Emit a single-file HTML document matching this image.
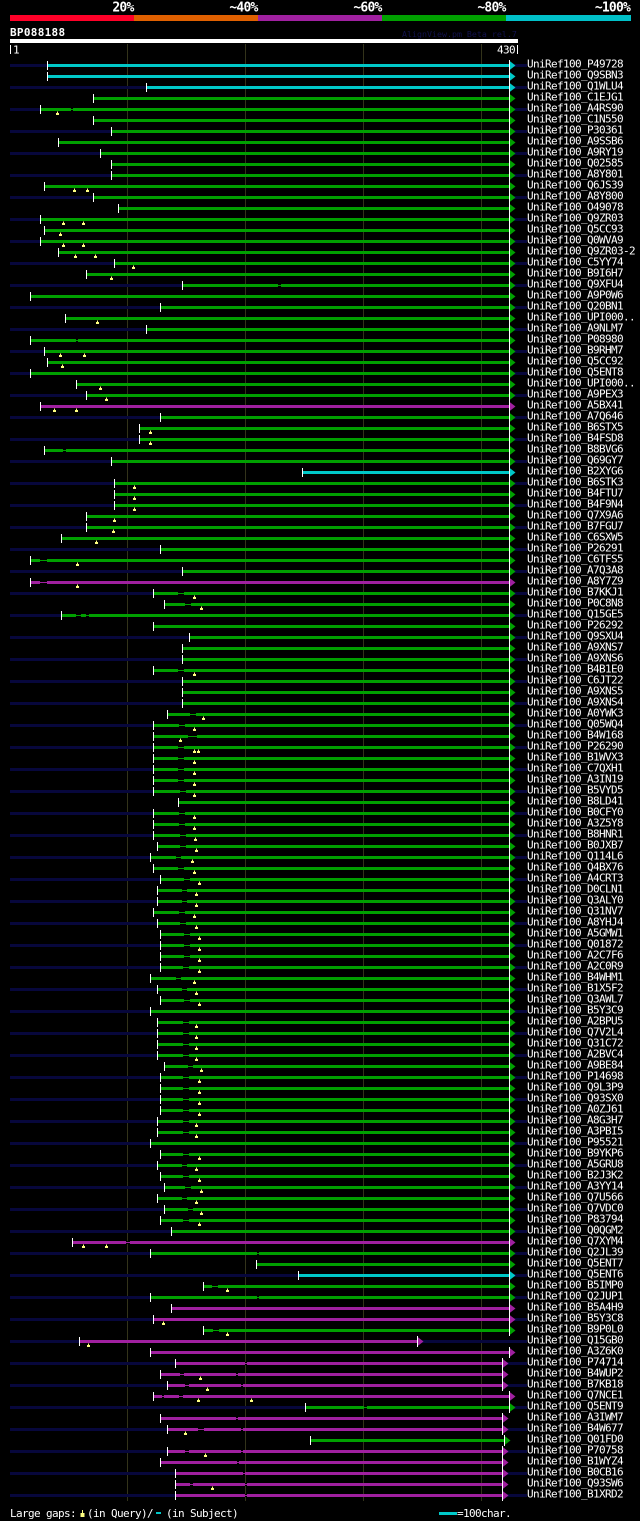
<!DOCTYPE html>
<html><head><meta charset="utf-8"><style>
html,body{margin:0;padding:0;background:#000;}
svg{display:block;}
.C{fill:#00c8c8}.G{fill:#00a000}.P{fill:#a020a0}.N{fill:#07073c}.K{fill:#000}.W{fill:#fff}
text{font-family:"DejaVu Sans Mono","Liberation Mono",monospace;font-size:11px;letter-spacing:-0.62px;fill:#fff}
.hd{font-weight:bold;font-size:13px;letter-spacing:-0.8px}
.bp{font-weight:bold;font-size:11px;letter-spacing:0.3px}
.av{font-size:8.3px;letter-spacing:0;fill:#12124e}
</style></head><body>
<svg width="640" height="1521" viewBox="0 0 640 1521" xmlns="http://www.w3.org/2000/svg">
<defs>
<rect id="k" x="0" y="61" width="1" height="9" fill="#fff"/>
<rect id="n" x="10" y="64" width="517" height="3" fill="#07073c"/>
<path id="t" d="M0 67.5h1v1.5h1v2h-3v-2h1z" fill="#ffff80"/>
<g id="aC"><path d="M509 60.5L515.5 65.5L509 70.5Z" fill="#00c8c8"/><rect x="509" y="60" width="1" height="11" fill="#fff"/></g>
<g id="aG"><path d="M509 60.5L515.5 65.5L509 70.5Z" fill="#00a000"/><rect x="509" y="60" width="1" height="11" fill="#fff"/></g>
<g id="aP"><path d="M509 60.5L515.5 65.5L509 70.5Z" fill="#a020a0"/><rect x="509" y="60" width="1" height="11" fill="#fff"/></g>
</defs>
<rect x="0" y="0" width="640" height="1521" fill="#000"/>
<!-- header -->
<text class="hd" x="133.5" y="11.5" text-anchor="end">20%</text>
<text class="hd" x="257.5" y="11.5" text-anchor="end">~40%</text>
<text class="hd" x="381.5" y="11.5" text-anchor="end">~60%</text>
<text class="hd" x="505.5" y="11.5" text-anchor="end">~80%</text>
<text class="hd" x="630" y="11.5" text-anchor="end">~100%</text>
<rect x="10" y="15" width="124" height="6" fill="#ff0028"/>
<rect x="134" y="15" width="124" height="6" fill="#e06000"/>
<rect x="258" y="15" width="124" height="6" fill="#a020a0"/>
<rect x="382" y="15" width="124" height="6" fill="#00a000"/>
<rect x="506" y="15" width="125" height="6" fill="#00c0c8"/>
<text class="bp" x="10" y="36">BP088188</text>
<text class="av" x="402" y="37">AlignView.pm Beta rel.7</text>
<rect x="10" y="39" width="508" height="4" fill="#fff"/>
<rect x="10" y="45" width="1" height="9" fill="#fff"/>
<text x="13" y="53.5">1</text>
<text x="515" y="53.5" text-anchor="end">430</text>
<rect x="517" y="45" width="1" height="9" fill="#fff"/>
<!-- grid -->
<rect x="127" y="44" width="1" height="1457" fill="#33331a"/>
<rect x="245" y="44" width="1" height="1457" fill="#33331a"/>
<rect x="363" y="44" width="1" height="1457" fill="#33331a"/>
<rect x="481" y="44" width="1" height="1457" fill="#33331a"/>
<!-- rows -->
<g transform="translate(0,0)"><use href="#n"/><rect class="C" x="47" y="64" width="462" height="3"/><use href="#k" x="47"/><use href="#aC"/><text x="527" y="67.5">UniRef100_P49728</text></g>
<g transform="translate(0,11)"><rect class="C" x="47" y="64" width="462" height="3"/><use href="#k" x="47"/><use href="#aC"/><text x="527" y="67.5">UniRef100_Q9SBN3</text></g>
<g transform="translate(0,22)"><use href="#n"/><rect class="C" x="146" y="64" width="363" height="3"/><use href="#k" x="146"/><use href="#aC"/><text x="527" y="67.5">UniRef100_Q1WLU4</text></g>
<g transform="translate(0,33)"><rect class="G" x="93" y="64" width="416" height="3"/><use href="#k" x="93"/><use href="#aG"/><text x="527" y="67.5">UniRef100_C1EJG1</text></g>
<g transform="translate(0,44)"><use href="#n"/><rect class="G" x="40" y="64" width="469" height="3"/><rect class="K" x="71" y="64" width="2" height="3"/><rect class="G" x="71" y="65" width="2" height="1"/><use href="#k" x="40"/><use href="#t" x="57"/><use href="#aG"/><text x="527" y="67.5">UniRef100_A4RS90</text></g>
<g transform="translate(0,55)"><rect class="G" x="93" y="64" width="416" height="3"/><use href="#k" x="93"/><use href="#aG"/><text x="527" y="67.5">UniRef100_C1N550</text></g>
<g transform="translate(0,66)"><use href="#n"/><rect class="G" x="111" y="64" width="398" height="3"/><use href="#k" x="111"/><use href="#aG"/><text x="527" y="67.5">UniRef100_P30361</text></g>
<g transform="translate(0,77)"><rect class="G" x="58" y="64" width="451" height="3"/><use href="#k" x="58"/><use href="#aG"/><text x="527" y="67.5">UniRef100_A9SSB6</text></g>
<g transform="translate(0,88)"><use href="#n"/><rect class="G" x="100" y="64" width="409" height="3"/><use href="#k" x="100"/><use href="#aG"/><text x="527" y="67.5">UniRef100_A9RY19</text></g>
<g transform="translate(0,99)"><rect class="G" x="111" y="64" width="398" height="3"/><use href="#k" x="111"/><use href="#aG"/><text x="527" y="67.5">UniRef100_Q02585</text></g>
<g transform="translate(0,110)"><use href="#n"/><rect class="G" x="111" y="64" width="398" height="3"/><use href="#k" x="111"/><use href="#aG"/><text x="527" y="67.5">UniRef100_A8Y801</text></g>
<g transform="translate(0,121)"><rect class="G" x="44" y="64" width="465" height="3"/><use href="#k" x="44"/><use href="#t" x="74"/><use href="#t" x="87"/><use href="#aG"/><text x="527" y="67.5">UniRef100_Q6JS39</text></g>
<g transform="translate(0,132)"><use href="#n"/><rect class="G" x="93" y="64" width="416" height="3"/><use href="#k" x="93"/><use href="#aG"/><text x="527" y="67.5">UniRef100_A8Y800</text></g>
<g transform="translate(0,143)"><rect class="G" x="118" y="64" width="391" height="3"/><use href="#k" x="118"/><use href="#aG"/><text x="527" y="67.5">UniRef100_O49078</text></g>
<g transform="translate(0,154)"><use href="#n"/><rect class="G" x="40" y="64" width="469" height="3"/><use href="#k" x="40"/><use href="#t" x="63"/><use href="#t" x="83"/><use href="#aG"/><text x="527" y="67.5">UniRef100_Q9ZR03</text></g>
<g transform="translate(0,165)"><rect class="G" x="44" y="64" width="465" height="3"/><use href="#k" x="44"/><use href="#t" x="60"/><use href="#aG"/><text x="527" y="67.5">UniRef100_Q5CC93</text></g>
<g transform="translate(0,176)"><use href="#n"/><rect class="G" x="40" y="64" width="469" height="3"/><use href="#k" x="40"/><use href="#t" x="63"/><use href="#t" x="83"/><use href="#aG"/><text x="527" y="67.5">UniRef100_Q0WVA9</text></g>
<g transform="translate(0,187)"><rect class="G" x="58" y="64" width="451" height="3"/><use href="#k" x="58"/><use href="#t" x="75"/><use href="#t" x="95"/><use href="#aG"/><text x="527" y="67.5">UniRef100_Q9ZR03-2</text></g>
<g transform="translate(0,198)"><use href="#n"/><rect class="G" x="114" y="64" width="395" height="3"/><use href="#k" x="114"/><use href="#t" x="133"/><use href="#aG"/><text x="527" y="67.5">UniRef100_C5YY74</text></g>
<g transform="translate(0,209)"><rect class="G" x="86" y="64" width="423" height="3"/><use href="#k" x="86"/><use href="#t" x="111"/><use href="#aG"/><text x="527" y="67.5">UniRef100_B9I6H7</text></g>
<g transform="translate(0,220)"><use href="#n"/><rect class="G" x="182" y="64" width="327" height="3"/><rect class="K" x="278" y="64" width="3" height="3"/><rect class="G" x="278" y="65" width="3" height="1"/><use href="#k" x="182"/><use href="#aG"/><text x="527" y="67.5">UniRef100_Q9XFU4</text></g>
<g transform="translate(0,231)"><rect class="G" x="30" y="64" width="479" height="3"/><use href="#k" x="30"/><use href="#aG"/><text x="527" y="67.5">UniRef100_A9P0W6</text></g>
<g transform="translate(0,242)"><use href="#n"/><rect class="G" x="160" y="64" width="349" height="3"/><use href="#k" x="160"/><use href="#aG"/><text x="527" y="67.5">UniRef100_Q20BN1</text></g>
<g transform="translate(0,253)"><rect class="G" x="65" y="64" width="444" height="3"/><use href="#k" x="65"/><use href="#t" x="97"/><use href="#aG"/><text x="527" y="67.5">UniRef100_UPI000..</text></g>
<g transform="translate(0,264)"><use href="#n"/><rect class="G" x="146" y="64" width="363" height="3"/><use href="#k" x="146"/><use href="#aG"/><text x="527" y="67.5">UniRef100_A9NLM7</text></g>
<g transform="translate(0,275)"><rect class="G" x="30" y="64" width="479" height="3"/><rect class="K" x="76" y="64" width="2" height="3"/><rect class="G" x="76" y="65" width="2" height="1"/><use href="#k" x="30"/><use href="#aG"/><text x="527" y="67.5">UniRef100_P08980</text></g>
<g transform="translate(0,286)"><use href="#n"/><rect class="G" x="44" y="64" width="465" height="3"/><use href="#k" x="44"/><use href="#t" x="60"/><use href="#t" x="84"/><use href="#aG"/><text x="527" y="67.5">UniRef100_B9RHM7</text></g>
<g transform="translate(0,297)"><rect class="G" x="47" y="64" width="462" height="3"/><use href="#k" x="47"/><use href="#t" x="62"/><use href="#aG"/><text x="527" y="67.5">UniRef100_Q5CC92</text></g>
<g transform="translate(0,308)"><use href="#n"/><rect class="G" x="30" y="64" width="479" height="3"/><use href="#k" x="30"/><use href="#aG"/><text x="527" y="67.5">UniRef100_Q5ENT8</text></g>
<g transform="translate(0,319)"><rect class="G" x="76" y="64" width="433" height="3"/><use href="#k" x="76"/><use href="#t" x="100"/><use href="#aG"/><text x="527" y="67.5">UniRef100_UPI000..</text></g>
<g transform="translate(0,330)"><use href="#n"/><rect class="G" x="86" y="64" width="423" height="3"/><use href="#k" x="86"/><use href="#t" x="106"/><use href="#aG"/><text x="527" y="67.5">UniRef100_A9PEX3</text></g>
<g transform="translate(0,341)"><rect class="P" x="40" y="64" width="469" height="3"/><use href="#k" x="40"/><use href="#t" x="54"/><use href="#t" x="76"/><use href="#aP"/><text x="527" y="67.5">UniRef100_A5BX41</text></g>
<g transform="translate(0,352)"><use href="#n"/><rect class="G" x="160" y="64" width="349" height="3"/><use href="#k" x="160"/><use href="#aG"/><text x="527" y="67.5">UniRef100_A7Q646</text></g>
<g transform="translate(0,363)"><rect class="G" x="139" y="64" width="370" height="3"/><use href="#k" x="139"/><use href="#t" x="150"/><use href="#aG"/><text x="527" y="67.5">UniRef100_B6STX5</text></g>
<g transform="translate(0,374)"><use href="#n"/><rect class="G" x="139" y="64" width="370" height="3"/><use href="#k" x="139"/><use href="#t" x="150"/><use href="#aG"/><text x="527" y="67.5">UniRef100_B4FSD8</text></g>
<g transform="translate(0,385)"><rect class="G" x="44" y="64" width="465" height="3"/><rect class="K" x="63" y="64" width="3" height="3"/><rect class="G" x="63" y="65" width="3" height="1"/><use href="#k" x="44"/><use href="#aG"/><text x="527" y="67.5">UniRef100_B8BVG6</text></g>
<g transform="translate(0,396)"><use href="#n"/><rect class="G" x="111" y="64" width="398" height="3"/><use href="#k" x="111"/><use href="#aG"/><text x="527" y="67.5">UniRef100_Q69GY7</text></g>
<g transform="translate(0,407)"><rect class="C" x="302" y="64" width="207" height="3"/><use href="#k" x="302"/><use href="#aC"/><text x="527" y="67.5">UniRef100_B2XYG6</text></g>
<g transform="translate(0,418)"><use href="#n"/><rect class="G" x="114" y="64" width="395" height="3"/><use href="#k" x="114"/><use href="#t" x="134"/><use href="#aG"/><text x="527" y="67.5">UniRef100_B6STK3</text></g>
<g transform="translate(0,429)"><rect class="G" x="114" y="64" width="395" height="3"/><use href="#k" x="114"/><use href="#t" x="134"/><use href="#aG"/><text x="527" y="67.5">UniRef100_B4FTU7</text></g>
<g transform="translate(0,440)"><use href="#n"/><rect class="G" x="114" y="64" width="395" height="3"/><use href="#k" x="114"/><use href="#t" x="134"/><use href="#aG"/><text x="527" y="67.5">UniRef100_B4F9N4</text></g>
<g transform="translate(0,451)"><rect class="G" x="86" y="64" width="423" height="3"/><use href="#k" x="86"/><use href="#t" x="114"/><use href="#aG"/><text x="527" y="67.5">UniRef100_Q7X9A6</text></g>
<g transform="translate(0,462)"><use href="#n"/><rect class="G" x="86" y="64" width="423" height="3"/><use href="#k" x="86"/><use href="#t" x="113"/><use href="#aG"/><text x="527" y="67.5">UniRef100_B7FGU7</text></g>
<g transform="translate(0,473)"><rect class="G" x="61" y="64" width="448" height="3"/><use href="#k" x="61"/><use href="#t" x="96"/><use href="#aG"/><text x="527" y="67.5">UniRef100_C6SXW5</text></g>
<g transform="translate(0,484)"><use href="#n"/><rect class="G" x="160" y="64" width="349" height="3"/><use href="#k" x="160"/><use href="#aG"/><text x="527" y="67.5">UniRef100_P26291</text></g>
<g transform="translate(0,495)"><rect class="G" x="30" y="64" width="479" height="3"/><rect class="K" x="40" y="64" width="7" height="3"/><rect class="G" x="40" y="65" width="7" height="1"/><use href="#k" x="30"/><use href="#t" x="77"/><use href="#aG"/><text x="527" y="67.5">UniRef100_C6TFS5</text></g>
<g transform="translate(0,506)"><use href="#n"/><rect class="G" x="182" y="64" width="327" height="3"/><use href="#k" x="182"/><use href="#aG"/><text x="527" y="67.5">UniRef100_A7Q3A8</text></g>
<g transform="translate(0,517)"><rect class="P" x="30" y="64" width="479" height="3"/><rect class="K" x="40" y="64" width="7" height="3"/><rect class="P" x="40" y="65" width="7" height="1"/><use href="#k" x="30"/><use href="#t" x="77"/><use href="#aP"/><text x="527" y="67.5">UniRef100_A8Y7Z9</text></g>
<g transform="translate(0,528)"><use href="#n"/><rect class="G" x="153" y="64" width="356" height="3"/><rect class="K" x="178" y="64" width="6" height="3"/><rect class="G" x="178" y="65" width="6" height="1"/><use href="#k" x="153"/><use href="#t" x="194"/><use href="#aG"/><text x="527" y="67.5">UniRef100_B7KKJ1</text></g>
<g transform="translate(0,539)"><rect class="G" x="164" y="64" width="345" height="3"/><rect class="K" x="185" y="64" width="6" height="3"/><rect class="G" x="185" y="65" width="6" height="1"/><use href="#k" x="164"/><use href="#t" x="201"/><use href="#aG"/><text x="527" y="67.5">UniRef100_P0C8N8</text></g>
<g transform="translate(0,550)"><use href="#n"/><rect class="G" x="61" y="64" width="448" height="3"/><rect class="K" x="76" y="64" width="5" height="3"/><rect class="G" x="76" y="65" width="5" height="1"/><rect class="K" x="86" y="64" width="3" height="3"/><rect class="G" x="86" y="65" width="3" height="1"/><use href="#k" x="61"/><use href="#aG"/><text x="527" y="67.5">UniRef100_Q15GE5</text></g>
<g transform="translate(0,561)"><rect class="G" x="153" y="64" width="356" height="3"/><use href="#k" x="153"/><use href="#aG"/><text x="527" y="67.5">UniRef100_P26292</text></g>
<g transform="translate(0,572)"><use href="#n"/><rect class="G" x="189" y="64" width="320" height="3"/><use href="#k" x="189"/><use href="#aG"/><text x="527" y="67.5">UniRef100_Q9SXU4</text></g>
<g transform="translate(0,583)"><rect class="G" x="182" y="64" width="327" height="3"/><use href="#k" x="182"/><use href="#aG"/><text x="527" y="67.5">UniRef100_A9XNS7</text></g>
<g transform="translate(0,594)"><use href="#n"/><rect class="G" x="182" y="64" width="327" height="3"/><use href="#k" x="182"/><use href="#aG"/><text x="527" y="67.5">UniRef100_A9XNS6</text></g>
<g transform="translate(0,605)"><rect class="G" x="153" y="64" width="356" height="3"/><rect class="K" x="178" y="64" width="6" height="3"/><rect class="G" x="178" y="65" width="6" height="1"/><use href="#k" x="153"/><use href="#t" x="194"/><use href="#aG"/><text x="527" y="67.5">UniRef100_B4B1E0</text></g>
<g transform="translate(0,616)"><use href="#n"/><rect class="G" x="182" y="64" width="327" height="3"/><use href="#k" x="182"/><use href="#aG"/><text x="527" y="67.5">UniRef100_C6JT22</text></g>
<g transform="translate(0,627)"><rect class="G" x="182" y="64" width="327" height="3"/><use href="#k" x="182"/><use href="#aG"/><text x="527" y="67.5">UniRef100_A9XNS5</text></g>
<g transform="translate(0,638)"><use href="#n"/><rect class="G" x="182" y="64" width="327" height="3"/><use href="#k" x="182"/><use href="#aG"/><text x="527" y="67.5">UniRef100_A9XNS4</text></g>
<g transform="translate(0,649)"><rect class="G" x="167" y="64" width="342" height="3"/><rect class="K" x="190" y="64" width="6" height="3"/><rect class="G" x="190" y="65" width="6" height="1"/><use href="#k" x="167"/><use href="#t" x="203"/><use href="#aG"/><text x="527" y="67.5">UniRef100_A0YWK3</text></g>
<g transform="translate(0,660)"><use href="#n"/><rect class="G" x="153" y="64" width="356" height="3"/><rect class="K" x="179" y="64" width="6" height="3"/><rect class="G" x="179" y="65" width="6" height="1"/><use href="#k" x="153"/><use href="#t" x="194"/><use href="#aG"/><text x="527" y="67.5">UniRef100_Q05WQ4</text></g>
<g transform="translate(0,671)"><rect class="G" x="153" y="64" width="356" height="3"/><rect class="K" x="188" y="64" width="9" height="3"/><rect class="G" x="188" y="65" width="9" height="1"/><use href="#k" x="153"/><use href="#t" x="180"/><use href="#aG"/><text x="527" y="67.5">UniRef100_B4W168</text></g>
<g transform="translate(0,682)"><use href="#n"/><rect class="G" x="153" y="64" width="356" height="3"/><rect class="K" x="178" y="64" width="6" height="3"/><rect class="G" x="178" y="65" width="6" height="1"/><use href="#k" x="153"/><use href="#t" x="194"/><use href="#t" x="198"/><use href="#aG"/><text x="527" y="67.5">UniRef100_P26290</text></g>
<g transform="translate(0,693)"><rect class="G" x="153" y="64" width="356" height="3"/><rect class="K" x="178" y="64" width="6" height="3"/><rect class="G" x="178" y="65" width="6" height="1"/><use href="#k" x="153"/><use href="#t" x="194"/><use href="#aG"/><text x="527" y="67.5">UniRef100_B1WVX3</text></g>
<g transform="translate(0,704)"><use href="#n"/><rect class="G" x="153" y="64" width="356" height="3"/><rect class="K" x="178" y="64" width="6" height="3"/><rect class="G" x="178" y="65" width="6" height="1"/><use href="#k" x="153"/><use href="#t" x="194"/><use href="#aG"/><text x="527" y="67.5">UniRef100_C7QXH1</text></g>
<g transform="translate(0,715)"><rect class="G" x="153" y="64" width="356" height="3"/><rect class="K" x="178" y="64" width="6" height="3"/><rect class="G" x="178" y="65" width="6" height="1"/><use href="#k" x="153"/><use href="#t" x="194"/><use href="#aG"/><text x="527" y="67.5">UniRef100_A3IN19</text></g>
<g transform="translate(0,726)"><use href="#n"/><rect class="G" x="153" y="64" width="356" height="3"/><rect class="K" x="180" y="64" width="6" height="3"/><rect class="G" x="180" y="65" width="6" height="1"/><use href="#k" x="153"/><use href="#t" x="194"/><use href="#aG"/><text x="527" y="67.5">UniRef100_B5VYD5</text></g>
<g transform="translate(0,737)"><rect class="G" x="178" y="64" width="331" height="3"/><use href="#k" x="178"/><use href="#aG"/><text x="527" y="67.5">UniRef100_B8LD41</text></g>
<g transform="translate(0,748)"><use href="#n"/><rect class="G" x="153" y="64" width="356" height="3"/><rect class="K" x="179" y="64" width="6" height="3"/><rect class="G" x="179" y="65" width="6" height="1"/><use href="#k" x="153"/><use href="#t" x="194"/><use href="#aG"/><text x="527" y="67.5">UniRef100_B0CFY0</text></g>
<g transform="translate(0,759)"><rect class="G" x="153" y="64" width="356" height="3"/><rect class="K" x="179" y="64" width="6" height="3"/><rect class="G" x="179" y="65" width="6" height="1"/><use href="#k" x="153"/><use href="#t" x="194"/><use href="#aG"/><text x="527" y="67.5">UniRef100_A3Z5Y8</text></g>
<g transform="translate(0,770)"><use href="#n"/><rect class="G" x="153" y="64" width="356" height="3"/><rect class="K" x="180" y="64" width="6" height="3"/><rect class="G" x="180" y="65" width="6" height="1"/><use href="#k" x="153"/><use href="#t" x="195"/><use href="#aG"/><text x="527" y="67.5">UniRef100_B8HNR1</text></g>
<g transform="translate(0,781)"><rect class="G" x="157" y="64" width="352" height="3"/><rect class="K" x="180" y="64" width="6" height="3"/><rect class="G" x="180" y="65" width="6" height="1"/><use href="#k" x="157"/><use href="#t" x="196"/><use href="#aG"/><text x="527" y="67.5">UniRef100_B0JXB7</text></g>
<g transform="translate(0,792)"><use href="#n"/><rect class="G" x="150" y="64" width="359" height="3"/><rect class="K" x="176" y="64" width="5" height="3"/><rect class="G" x="176" y="65" width="5" height="1"/><use href="#k" x="150"/><use href="#t" x="192"/><use href="#aG"/><text x="527" y="67.5">UniRef100_Q114L6</text></g>
<g transform="translate(0,803)"><rect class="G" x="153" y="64" width="356" height="3"/><rect class="K" x="178" y="64" width="6" height="3"/><rect class="G" x="178" y="65" width="6" height="1"/><use href="#k" x="153"/><use href="#t" x="194"/><use href="#aG"/><text x="527" y="67.5">UniRef100_Q4BX76</text></g>
<g transform="translate(0,814)"><use href="#n"/><rect class="G" x="160" y="64" width="349" height="3"/><rect class="K" x="184" y="64" width="6" height="3"/><rect class="G" x="184" y="65" width="6" height="1"/><use href="#k" x="160"/><use href="#t" x="199"/><use href="#aG"/><text x="527" y="67.5">UniRef100_A4CRT3</text></g>
<g transform="translate(0,825)"><rect class="G" x="157" y="64" width="352" height="3"/><rect class="K" x="182" y="64" width="5" height="3"/><rect class="G" x="182" y="65" width="5" height="1"/><use href="#k" x="157"/><use href="#t" x="196"/><use href="#aG"/><text x="527" y="67.5">UniRef100_D0CLN1</text></g>
<g transform="translate(0,836)"><use href="#n"/><rect class="G" x="157" y="64" width="352" height="3"/><rect class="K" x="182" y="64" width="5" height="3"/><rect class="G" x="182" y="65" width="5" height="1"/><use href="#k" x="157"/><use href="#t" x="196"/><use href="#aG"/><text x="527" y="67.5">UniRef100_Q3ALY0</text></g>
<g transform="translate(0,847)"><rect class="G" x="153" y="64" width="356" height="3"/><rect class="K" x="179" y="64" width="6" height="3"/><rect class="G" x="179" y="65" width="6" height="1"/><use href="#k" x="153"/><use href="#t" x="194"/><use href="#aG"/><text x="527" y="67.5">UniRef100_Q31NV7</text></g>
<g transform="translate(0,858)"><use href="#n"/><rect class="G" x="157" y="64" width="352" height="3"/><rect class="K" x="180" y="64" width="6" height="3"/><rect class="G" x="180" y="65" width="6" height="1"/><use href="#k" x="157"/><use href="#t" x="196"/><use href="#aG"/><text x="527" y="67.5">UniRef100_A8YHJ4</text></g>
<g transform="translate(0,869)"><rect class="G" x="160" y="64" width="349" height="3"/><rect class="K" x="184" y="64" width="6" height="3"/><rect class="G" x="184" y="65" width="6" height="1"/><use href="#k" x="160"/><use href="#t" x="199"/><use href="#aG"/><text x="527" y="67.5">UniRef100_A5GMW1</text></g>
<g transform="translate(0,880)"><use href="#n"/><rect class="G" x="160" y="64" width="349" height="3"/><rect class="K" x="184" y="64" width="6" height="3"/><rect class="G" x="184" y="65" width="6" height="1"/><use href="#k" x="160"/><use href="#t" x="199"/><use href="#aG"/><text x="527" y="67.5">UniRef100_Q01872</text></g>
<g transform="translate(0,891)"><rect class="G" x="160" y="64" width="349" height="3"/><rect class="K" x="184" y="64" width="6" height="3"/><rect class="G" x="184" y="65" width="6" height="1"/><use href="#k" x="160"/><use href="#t" x="199"/><use href="#aG"/><text x="527" y="67.5">UniRef100_A2C7F6</text></g>
<g transform="translate(0,902)"><use href="#n"/><rect class="G" x="160" y="64" width="349" height="3"/><rect class="K" x="183" y="64" width="6" height="3"/><rect class="G" x="183" y="65" width="6" height="1"/><use href="#k" x="160"/><use href="#t" x="199"/><use href="#aG"/><text x="527" y="67.5">UniRef100_A2C0R9</text></g>
<g transform="translate(0,913)"><rect class="G" x="150" y="64" width="359" height="3"/><rect class="K" x="176" y="64" width="5" height="3"/><rect class="G" x="176" y="65" width="5" height="1"/><use href="#k" x="150"/><use href="#t" x="194"/><use href="#aG"/><text x="527" y="67.5">UniRef100_B4WHM1</text></g>
<g transform="translate(0,924)"><use href="#n"/><rect class="G" x="157" y="64" width="352" height="3"/><rect class="K" x="182" y="64" width="5" height="3"/><rect class="G" x="182" y="65" width="5" height="1"/><use href="#k" x="157"/><use href="#t" x="196"/><use href="#aG"/><text x="527" y="67.5">UniRef100_B1X5F2</text></g>
<g transform="translate(0,935)"><rect class="G" x="160" y="64" width="349" height="3"/><rect class="K" x="184" y="64" width="6" height="3"/><rect class="G" x="184" y="65" width="6" height="1"/><use href="#k" x="160"/><use href="#t" x="199"/><use href="#aG"/><text x="527" y="67.5">UniRef100_Q3AWL7</text></g>
<g transform="translate(0,946)"><use href="#n"/><rect class="G" x="150" y="64" width="359" height="3"/><use href="#k" x="150"/><use href="#aG"/><text x="527" y="67.5">UniRef100_B5Y3C9</text></g>
<g transform="translate(0,957)"><rect class="G" x="157" y="64" width="352" height="3"/><rect class="K" x="183" y="64" width="6" height="3"/><rect class="G" x="183" y="65" width="6" height="1"/><use href="#k" x="157"/><use href="#t" x="196"/><use href="#aG"/><text x="527" y="67.5">UniRef100_A2BPU5</text></g>
<g transform="translate(0,968)"><use href="#n"/><rect class="G" x="157" y="64" width="352" height="3"/><rect class="K" x="183" y="64" width="6" height="3"/><rect class="G" x="183" y="65" width="6" height="1"/><use href="#k" x="157"/><use href="#t" x="196"/><use href="#aG"/><text x="527" y="67.5">UniRef100_Q7V2L4</text></g>
<g transform="translate(0,979)"><rect class="G" x="157" y="64" width="352" height="3"/><rect class="K" x="183" y="64" width="6" height="3"/><rect class="G" x="183" y="65" width="6" height="1"/><use href="#k" x="157"/><use href="#t" x="196"/><use href="#aG"/><text x="527" y="67.5">UniRef100_Q31C72</text></g>
<g transform="translate(0,990)"><use href="#n"/><rect class="G" x="157" y="64" width="352" height="3"/><rect class="K" x="183" y="64" width="6" height="3"/><rect class="G" x="183" y="65" width="6" height="1"/><use href="#k" x="157"/><use href="#t" x="196"/><use href="#aG"/><text x="527" y="67.5">UniRef100_A2BVC4</text></g>
<g transform="translate(0,1001)"><rect class="G" x="164" y="64" width="345" height="3"/><rect class="K" x="188" y="64" width="5" height="3"/><rect class="G" x="188" y="65" width="5" height="1"/><use href="#k" x="164"/><use href="#t" x="201"/><use href="#aG"/><text x="527" y="67.5">UniRef100_A9BE84</text></g>
<g transform="translate(0,1012)"><use href="#n"/><rect class="G" x="160" y="64" width="349" height="3"/><rect class="K" x="183" y="64" width="6" height="3"/><rect class="G" x="183" y="65" width="6" height="1"/><use href="#k" x="160"/><use href="#t" x="199"/><use href="#aG"/><text x="527" y="67.5">UniRef100_P14698</text></g>
<g transform="translate(0,1023)"><rect class="G" x="160" y="64" width="349" height="3"/><rect class="K" x="183" y="64" width="6" height="3"/><rect class="G" x="183" y="65" width="6" height="1"/><use href="#k" x="160"/><use href="#t" x="199"/><use href="#aG"/><text x="527" y="67.5">UniRef100_Q9L3P9</text></g>
<g transform="translate(0,1034)"><use href="#n"/><rect class="G" x="160" y="64" width="349" height="3"/><rect class="K" x="183" y="64" width="6" height="3"/><rect class="G" x="183" y="65" width="6" height="1"/><use href="#k" x="160"/><use href="#t" x="199"/><use href="#aG"/><text x="527" y="67.5">UniRef100_Q93SX0</text></g>
<g transform="translate(0,1045)"><rect class="G" x="160" y="64" width="349" height="3"/><rect class="K" x="183" y="64" width="6" height="3"/><rect class="G" x="183" y="65" width="6" height="1"/><use href="#k" x="160"/><use href="#t" x="199"/><use href="#aG"/><text x="527" y="67.5">UniRef100_A0ZJ61</text></g>
<g transform="translate(0,1056)"><use href="#n"/><rect class="G" x="157" y="64" width="352" height="3"/><rect class="K" x="183" y="64" width="6" height="3"/><rect class="G" x="183" y="65" width="6" height="1"/><use href="#k" x="157"/><use href="#t" x="196"/><use href="#aG"/><text x="527" y="67.5">UniRef100_A8G3H7</text></g>
<g transform="translate(0,1067)"><rect class="G" x="157" y="64" width="352" height="3"/><rect class="K" x="183" y="64" width="6" height="3"/><rect class="G" x="183" y="65" width="6" height="1"/><use href="#k" x="157"/><use href="#t" x="196"/><use href="#aG"/><text x="527" y="67.5">UniRef100_A3PBI5</text></g>
<g transform="translate(0,1078)"><use href="#n"/><rect class="G" x="150" y="64" width="359" height="3"/><use href="#k" x="150"/><use href="#aG"/><text x="527" y="67.5">UniRef100_P95521</text></g>
<g transform="translate(0,1089)"><rect class="G" x="160" y="64" width="349" height="3"/><rect class="K" x="183" y="64" width="6" height="3"/><rect class="G" x="183" y="65" width="6" height="1"/><use href="#k" x="160"/><use href="#t" x="199"/><use href="#aG"/><text x="527" y="67.5">UniRef100_B9YKP6</text></g>
<g transform="translate(0,1100)"><use href="#n"/><rect class="G" x="157" y="64" width="352" height="3"/><rect class="K" x="182" y="64" width="5" height="3"/><rect class="G" x="182" y="65" width="5" height="1"/><use href="#k" x="157"/><use href="#t" x="196"/><use href="#aG"/><text x="527" y="67.5">UniRef100_A5GRU8</text></g>
<g transform="translate(0,1111)"><rect class="G" x="160" y="64" width="349" height="3"/><rect class="K" x="183" y="64" width="6" height="3"/><rect class="G" x="183" y="65" width="6" height="1"/><use href="#k" x="160"/><use href="#t" x="199"/><use href="#aG"/><text x="527" y="67.5">UniRef100_B2J3K2</text></g>
<g transform="translate(0,1122)"><use href="#n"/><rect class="G" x="164" y="64" width="345" height="3"/><rect class="K" x="185" y="64" width="6" height="3"/><rect class="G" x="185" y="65" width="6" height="1"/><use href="#k" x="164"/><use href="#t" x="201"/><use href="#aG"/><text x="527" y="67.5">UniRef100_A3YY14</text></g>
<g transform="translate(0,1133)"><rect class="G" x="157" y="64" width="352" height="3"/><rect class="K" x="182" y="64" width="5" height="3"/><rect class="G" x="182" y="65" width="5" height="1"/><use href="#k" x="157"/><use href="#t" x="196"/><use href="#aG"/><text x="527" y="67.5">UniRef100_Q7U566</text></g>
<g transform="translate(0,1144)"><use href="#n"/><rect class="G" x="164" y="64" width="345" height="3"/><rect class="K" x="188" y="64" width="5" height="3"/><rect class="G" x="188" y="65" width="5" height="1"/><use href="#k" x="164"/><use href="#t" x="201"/><use href="#aG"/><text x="527" y="67.5">UniRef100_Q7VDC0</text></g>
<g transform="translate(0,1155)"><rect class="G" x="160" y="64" width="349" height="3"/><rect class="K" x="183" y="64" width="6" height="3"/><rect class="G" x="183" y="65" width="6" height="1"/><use href="#k" x="160"/><use href="#t" x="199"/><use href="#aG"/><text x="527" y="67.5">UniRef100_P83794</text></g>
<g transform="translate(0,1166)"><use href="#n"/><rect class="G" x="171" y="64" width="338" height="3"/><use href="#k" x="171"/><use href="#aG"/><text x="527" y="67.5">UniRef100_Q0QGM2</text></g>
<g transform="translate(0,1177)"><rect class="P" x="72" y="64" width="437" height="3"/><rect class="K" x="126" y="64" width="4" height="3"/><rect class="P" x="126" y="65" width="4" height="1"/><use href="#k" x="72"/><use href="#t" x="83"/><use href="#t" x="106"/><use href="#aP"/><text x="527" y="67.5">UniRef100_Q7XYM4</text></g>
<g transform="translate(0,1188)"><use href="#n"/><rect class="G" x="150" y="64" width="359" height="3"/><rect class="K" x="257" y="64" width="2" height="3"/><rect class="G" x="257" y="65" width="2" height="1"/><use href="#k" x="150"/><use href="#aG"/><text x="527" y="67.5">UniRef100_Q2JL39</text></g>
<g transform="translate(0,1199)"><rect class="G" x="256" y="64" width="253" height="3"/><use href="#k" x="256"/><use href="#aG"/><text x="527" y="67.5">UniRef100_Q5ENT7</text></g>
<g transform="translate(0,1210)"><use href="#n"/><rect class="C" x="298" y="64" width="211" height="3"/><use href="#k" x="298"/><use href="#aC"/><text x="527" y="67.5">UniRef100_Q5ENT6</text></g>
<g transform="translate(0,1221)"><rect class="G" x="203" y="64" width="306" height="3"/><rect class="K" x="212" y="64" width="6" height="3"/><rect class="G" x="212" y="65" width="6" height="1"/><use href="#k" x="203"/><use href="#t" x="227"/><use href="#aG"/><text x="527" y="67.5">UniRef100_B5IMP0</text></g>
<g transform="translate(0,1232)"><use href="#n"/><rect class="G" x="150" y="64" width="359" height="3"/><rect class="K" x="257" y="64" width="2" height="3"/><rect class="G" x="257" y="65" width="2" height="1"/><use href="#k" x="150"/><use href="#aG"/><text x="527" y="67.5">UniRef100_Q2JUP1</text></g>
<g transform="translate(0,1243)"><rect class="P" x="171" y="64" width="338" height="3"/><use href="#k" x="171"/><use href="#aP"/><text x="527" y="67.5">UniRef100_B5A4H9</text></g>
<g transform="translate(0,1254)"><use href="#n"/><rect class="P" x="153" y="64" width="356" height="3"/><use href="#k" x="153"/><use href="#t" x="163"/><use href="#aP"/><text x="527" y="67.5">UniRef100_B5Y3C8</text></g>
<g transform="translate(0,1265)"><rect class="G" x="203" y="64" width="306" height="3"/><rect class="K" x="213" y="64" width="6" height="3"/><rect class="G" x="213" y="65" width="6" height="1"/><use href="#k" x="203"/><use href="#t" x="227"/><use href="#aG"/><text x="527" y="67.5">UniRef100_B9P0L0</text></g>
<g transform="translate(0,1276)"><use href="#n"/><rect class="P" x="79" y="64" width="338" height="3"/><use href="#k" x="79"/><use href="#t" x="88"/><use href="#aP" x="-92"/><text x="527" y="67.5">UniRef100_Q15GB0</text></g>
<g transform="translate(0,1287)"><rect class="P" x="150" y="64" width="359" height="3"/><use href="#k" x="150"/><use href="#aP"/><text x="527" y="67.5">UniRef100_A3Z6K0</text></g>
<g transform="translate(0,1298)"><use href="#n"/><rect class="P" x="175" y="64" width="327" height="3"/><rect class="K" x="245" y="64" width="2" height="3"/><rect class="P" x="245" y="65" width="2" height="1"/><use href="#k" x="175"/><use href="#aP" x="-7"/><text x="527" y="67.5">UniRef100_P74714</text></g>
<g transform="translate(0,1309)"><rect class="P" x="160" y="64" width="342" height="3"/><rect class="K" x="180" y="64" width="4" height="3"/><rect class="P" x="180" y="65" width="4" height="1"/><rect class="K" x="236" y="64" width="2" height="3"/><rect class="P" x="236" y="65" width="2" height="1"/><use href="#k" x="160"/><use href="#t" x="200"/><use href="#aP" x="-7"/><text x="527" y="67.5">UniRef100_B4WUP2</text></g>
<g transform="translate(0,1320)"><use href="#n"/><rect class="P" x="167" y="64" width="335" height="3"/><rect class="K" x="185" y="64" width="4" height="3"/><rect class="P" x="185" y="65" width="4" height="1"/><rect class="K" x="241" y="64" width="2" height="3"/><rect class="P" x="241" y="65" width="2" height="1"/><use href="#k" x="167"/><use href="#t" x="207"/><use href="#aP" x="-7"/><text x="527" y="67.5">UniRef100_B7KB18</text></g>
<g transform="translate(0,1331)"><rect class="P" x="153" y="64" width="356" height="3"/><rect class="K" x="162" y="64" width="2" height="3"/><rect class="P" x="162" y="65" width="2" height="1"/><rect class="K" x="179" y="64" width="4" height="3"/><rect class="P" x="179" y="65" width="4" height="1"/><use href="#k" x="153"/><use href="#t" x="198"/><use href="#t" x="251"/><use href="#aP"/><text x="527" y="67.5">UniRef100_Q7NCE1</text></g>
<g transform="translate(0,1342)"><use href="#n"/><rect class="G" x="305" y="64" width="204" height="3"/><rect class="K" x="364" y="64" width="3" height="3"/><rect class="G" x="364" y="65" width="3" height="1"/><use href="#k" x="305"/><use href="#aG"/><text x="527" y="67.5">UniRef100_Q5ENT9</text></g>
<g transform="translate(0,1353)"><rect class="P" x="160" y="64" width="342" height="3"/><rect class="K" x="236" y="64" width="2" height="3"/><rect class="P" x="236" y="65" width="2" height="1"/><use href="#k" x="160"/><use href="#aP" x="-7"/><text x="527" y="67.5">UniRef100_A3IWM7</text></g>
<g transform="translate(0,1364)"><use href="#n"/><rect class="P" x="167" y="64" width="335" height="3"/><rect class="K" x="198" y="64" width="6" height="3"/><rect class="P" x="198" y="65" width="6" height="1"/><rect class="K" x="241" y="64" width="2" height="3"/><rect class="P" x="241" y="65" width="2" height="1"/><use href="#k" x="167"/><use href="#t" x="185"/><use href="#aP" x="-7"/><text x="527" y="67.5">UniRef100_B4W677</text></g>
<g transform="translate(0,1375)"><rect class="G" x="310" y="64" width="194" height="3"/><use href="#k" x="310"/><use href="#aG" x="-5"/><text x="527" y="67.5">UniRef100_Q01FD0</text></g>
<g transform="translate(0,1386)"><use href="#n"/><rect class="P" x="167" y="64" width="335" height="3"/><rect class="K" x="185" y="64" width="4" height="3"/><rect class="P" x="185" y="65" width="4" height="1"/><rect class="K" x="241" y="64" width="2" height="3"/><rect class="P" x="241" y="65" width="2" height="1"/><use href="#k" x="167"/><use href="#t" x="205"/><use href="#aP" x="-7"/><text x="527" y="67.5">UniRef100_P70758</text></g>
<g transform="translate(0,1397)"><rect class="P" x="160" y="64" width="342" height="3"/><rect class="K" x="237" y="64" width="2" height="3"/><rect class="P" x="237" y="65" width="2" height="1"/><use href="#k" x="160"/><use href="#aP" x="-7"/><text x="527" y="67.5">UniRef100_B1WYZ4</text></g>
<g transform="translate(0,1408)"><use href="#n"/><rect class="P" x="175" y="64" width="327" height="3"/><rect class="K" x="243" y="64" width="2" height="3"/><rect class="P" x="243" y="65" width="2" height="1"/><use href="#k" x="175"/><use href="#aP" x="-7"/><text x="527" y="67.5">UniRef100_B0CB16</text></g>
<g transform="translate(0,1419)"><rect class="P" x="175" y="64" width="327" height="3"/><rect class="K" x="190" y="64" width="3" height="3"/><rect class="P" x="190" y="65" width="3" height="1"/><rect class="K" x="245" y="64" width="2" height="3"/><rect class="P" x="245" y="65" width="2" height="1"/><use href="#k" x="175"/><use href="#t" x="212"/><use href="#aP" x="-7"/><text x="527" y="67.5">UniRef100_Q93SW6</text></g>
<g transform="translate(0,1430)"><use href="#n"/><rect class="P" x="175" y="64" width="327" height="3"/><rect class="K" x="245" y="64" width="2" height="3"/><rect class="P" x="245" y="65" width="2" height="1"/><use href="#k" x="175"/><use href="#aP" x="-7"/><text x="527" y="67.5">UniRef100_B1XRD2</text></g>
<!-- legend -->
<text x="10" y="1517">Large gaps:</text>
<path d="M82 1510h1v3h1.5v4h-4v-4h1.5z" fill="#ffff80"/>
<text x="87" y="1517">(in Query)/</text>
<rect x="156" y="1512" width="5" height="2" fill="#00c8c8"/>
<text x="166" y="1517">(in Subject)</text>
<rect x="439" y="1512" width="18" height="3" fill="#00c8c8"/>
<text x="457" y="1517">=100char.</text>
</svg>
</body></html>
